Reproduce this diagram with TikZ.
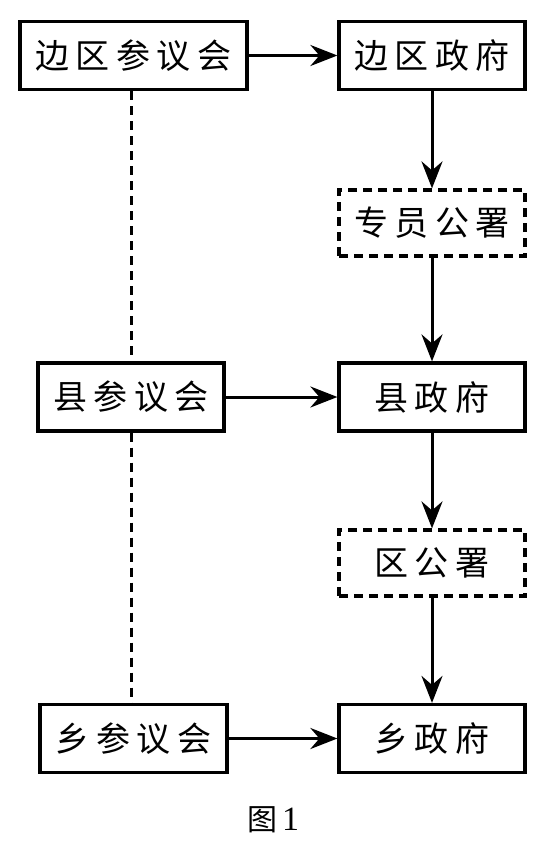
\documentclass[tikz,border=0pt]{standalone}
\usepackage{fontspec}
\newfontfamily\cjk{Noto Sans CJK SC}
\setmainfont{Liberation Serif}
\usetikzlibrary{arrows.meta}
\newcommand\gp{\hspace{6.5pt}}
\begin{document}
\begin{tikzpicture}[x=1pt,y=-1pt,
  box/.style={draw, line width=3.2pt, minimum height=68pt, inner sep=0pt, fill=white,
    font=\cjk\fontsize{34}{34}\selectfont},
  dbox/.style={box, dash pattern=on 9pt off 6pt},
  arr/.style={line width=3pt, -{Stealth[length=27pt,width=21pt,inset=9pt]}},
  link/.style={line width=3pt, dash pattern=on 9pt off 6pt}]
\useasboundingbox (0,0) rectangle (545,851);
% left column
\node[box, minimum width=227pt] (b1) at (133.5,55.5) {边\gp 区\gp 参\gp 议\gp 会};
\node[box, minimum width=186pt] (b2) at (131,397) {县\gp 参\gp 议\gp 会};
\node[box, minimum width=187pt] (b3) at (133.5,738.5) {乡\gp 参\gp 议\gp 会};
% right column
\node[box, minimum width=186pt] (g1) at (432,55.5) {边\gp 区\gp 政\gp 府};
\node[dbox, minimum width=186pt, minimum height=66pt] (z) at (432,223) {专\gp 员\gp 公\gp 署};
\node[box, minimum width=186pt] (g2) at (432,397) {县\gp 政\gp 府};
\node[dbox, minimum width=186pt, minimum height=66pt] (q) at (432,563) {区\gp 公\gp 署};
\node[box, minimum width=186pt] (g3) at (432,738.5) {乡\gp 政\gp 府};
% caption
\node[font=\fontsize{34}{34}\selectfont] (cap) at (273,820) {{\cjk\fontsize{30}{30}\selectfont 图}\hspace{5pt}1};
% dashed links
\draw[link] (b1.south -| b2.south) -- (b2.north);
\draw[link] (b2.south) -- (b2.south |- b3.north);
% horizontal arrows
\draw[arr] (b1) -- (g1);
\draw[arr] (b2) -- (g2);
\draw[arr] (b3) -- (g3);
% vertical arrows
\draw[arr] (g1) -- (z);
\draw[arr] (z) -- (g2);
\draw[arr] (g2) -- (q);
\draw[arr] (q) -- (g3);
\end{tikzpicture}
\end{document}
